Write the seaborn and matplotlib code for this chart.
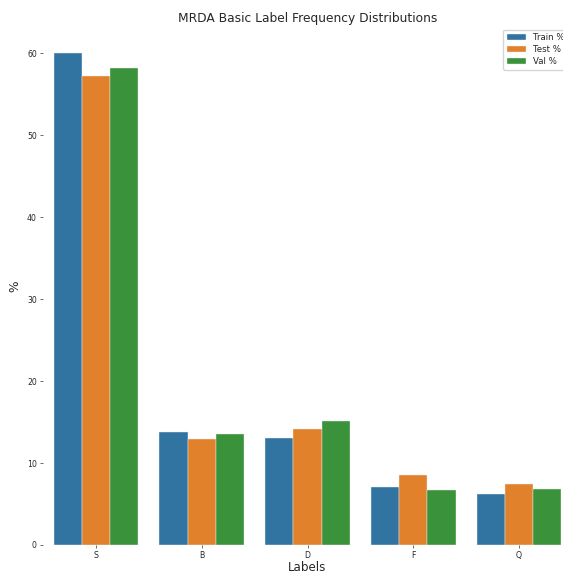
import numpy as np
import pandas as pd
import matplotlib
matplotlib.use("Agg")
import matplotlib.pyplot as plt
import seaborn as sns

# 라벨별 비율 (%)
labels = ["S", "B", "D", "F", "Q"]
train_pct = [60.1, 13.8, 13.1, 7.1, 6.2]
test_pct = [57.3, 12.9, 14.1, 8.5, 7.4]
val_pct = [58.2, 13.5, 15.1, 6.7, 6.8]

df = pd.DataFrame({"Labels": labels, "Train %": train_pct, "Test %": test_pct, "Val %": val_pct})
long_df = df.melt(id_vars="Labels", var_name="Split", value_name="%")

sns.set_style("ticks")
plt.rcParams["font.family"] = ["DejaVu Sans"]

fig = plt.figure(figsize=(5.63, 5.74), dpi=100)
ax = fig.add_axes([43 / 563, 29 / 574, 529 / 563, 517 / 574])
sns.barplot(data=long_df, x="Labels", y="%", hue="Split", ax=ax, saturation=0.75,
            edgecolor="#f0f0f0", linewidth=0.3)

ax.set_title("MRDA Basic Label Frequency Distributions", fontsize=8.8, pad=4)
ax.set_xlabel("Labels", fontsize=8.6, labelpad=0.5)
ax.set_ylabel("%", fontsize=8.8)
ax.tick_params(axis="both", labelsize=5.6, length=2.5, width=0.6, color="#555555", pad=2)
sns.despine(ax=ax, left=True, bottom=True)
ax.legend(loc="upper right", fontsize=6.2, frameon=True, handlelength=2.2,
          borderpad=0.4, labelspacing=0.35, bbox_to_anchor=(1.0, 1.005))

fig.savefig("out.png", dpi=100)
